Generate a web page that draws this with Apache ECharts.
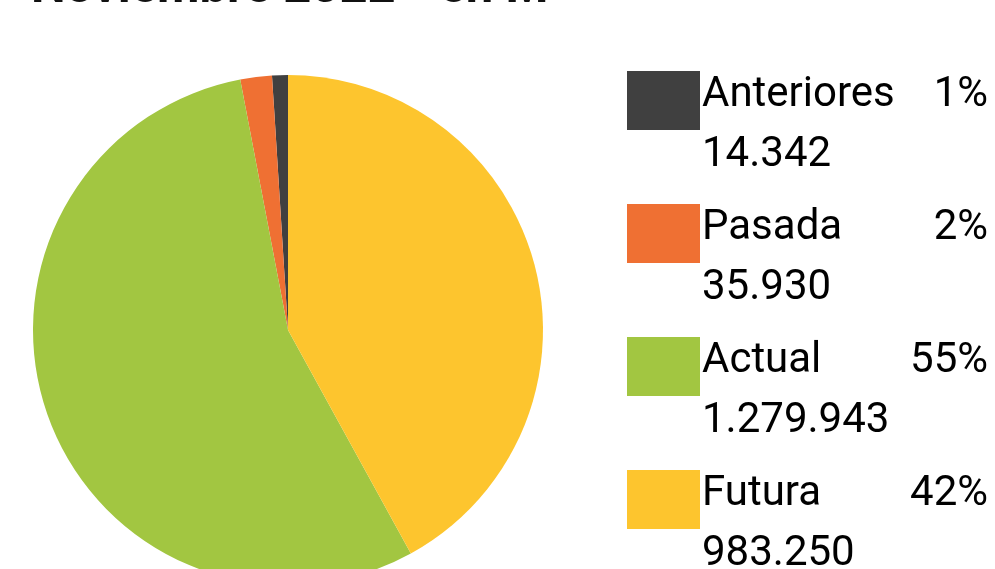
<!DOCTYPE html>
<html><head><meta charset="utf-8">
<script src="https://cdn.jsdelivr.net/npm/echarts@6/dist/echarts.min.js"></script>
<style>html,body{margin:0;padding:0;background:#fff}#c{width:995px;height:569px}</style>
</head><body><div id="c"></div>
<script>
const titleText = 'Noviembre 2022 - en M';
const categories = ['Anteriores', 'Pasada', 'Actual', 'Futura'];
const values = [14342, 35930, 1279943, 983250];
const colors = ['#404040', '#EF7033', '#A2C641', '#FDC52E'];

function fmt(n) { return String(n).replace(/\B(?=(\d{3})+(?!\d))/g, '.'); }
function pcts(arr) {
  const total = arr.reduce((a, b) => a + b, 0);
  const raw = arr.map(v => v / total * 100);
  const fl = raw.map(Math.floor);
  let rem = 100 - fl.reduce((a, b) => a + b, 0);
  const order = raw.map((v, i) => [v - Math.floor(v), i]).sort((a, b) => b[0] - a[0]);
  for (let k = 0; k < rem; k++) fl[order[k][1]]++;
  return fl;
}
// the reference pie is drawn from the rounded shares
const pct = pcts(values);

const chart = echarts.init(document.getElementById('c'), null, {renderer: 'canvas'});
chart.setOption({
  animation: false,
  color: colors,
  title: {
    text: titleText, left: 26, top: -40,
    textStyle: {fontFamily: 'Roboto', fontWeight: 'bold', fontSize: 49, color: '#111'}
  },
  legend: {
    orient: 'vertical', left: 627, top: 71, padding: 0, height: 900,
    itemWidth: 73, itemHeight: 59, itemGap: 27.5,
    icon: 'rect',
    data: categories,
    formatter: function (name) {
      const i = categories.indexOf(name);
      return '{n|' + name + '}{p|' + pct[i] + '%}\n{v|' + fmt(values[i]) + '}';
    },
    textStyle: {
      fontFamily: 'Roboto', fontSize: 42, color: '#000',
      padding: [50, 0, 0, -3],
      rich: {
        n: {fontFamily: 'Roboto', fontSize: 42, color: '#000', width: 203, lineHeight: 60},
        p: {fontFamily: 'Roboto', fontSize: 42, color: '#000', width: 83, align: 'right', lineHeight: 60},
        v: {fontFamily: 'Roboto', fontSize: 42, color: '#000', lineHeight: 60}
      }
    }
  },
  series: [{
    type: 'pie',
    center: [288, 330], radius: 255,
    startAngle: 90, clockwise: false,
    label: {show: false}, labelLine: {show: false},
    itemStyle: {borderWidth: 0},
    emphasis: {disabled: true},
    data: categories.map((c, i) => ({name: c, value: pct[i]}))
  }]
});
</script></body></html>
